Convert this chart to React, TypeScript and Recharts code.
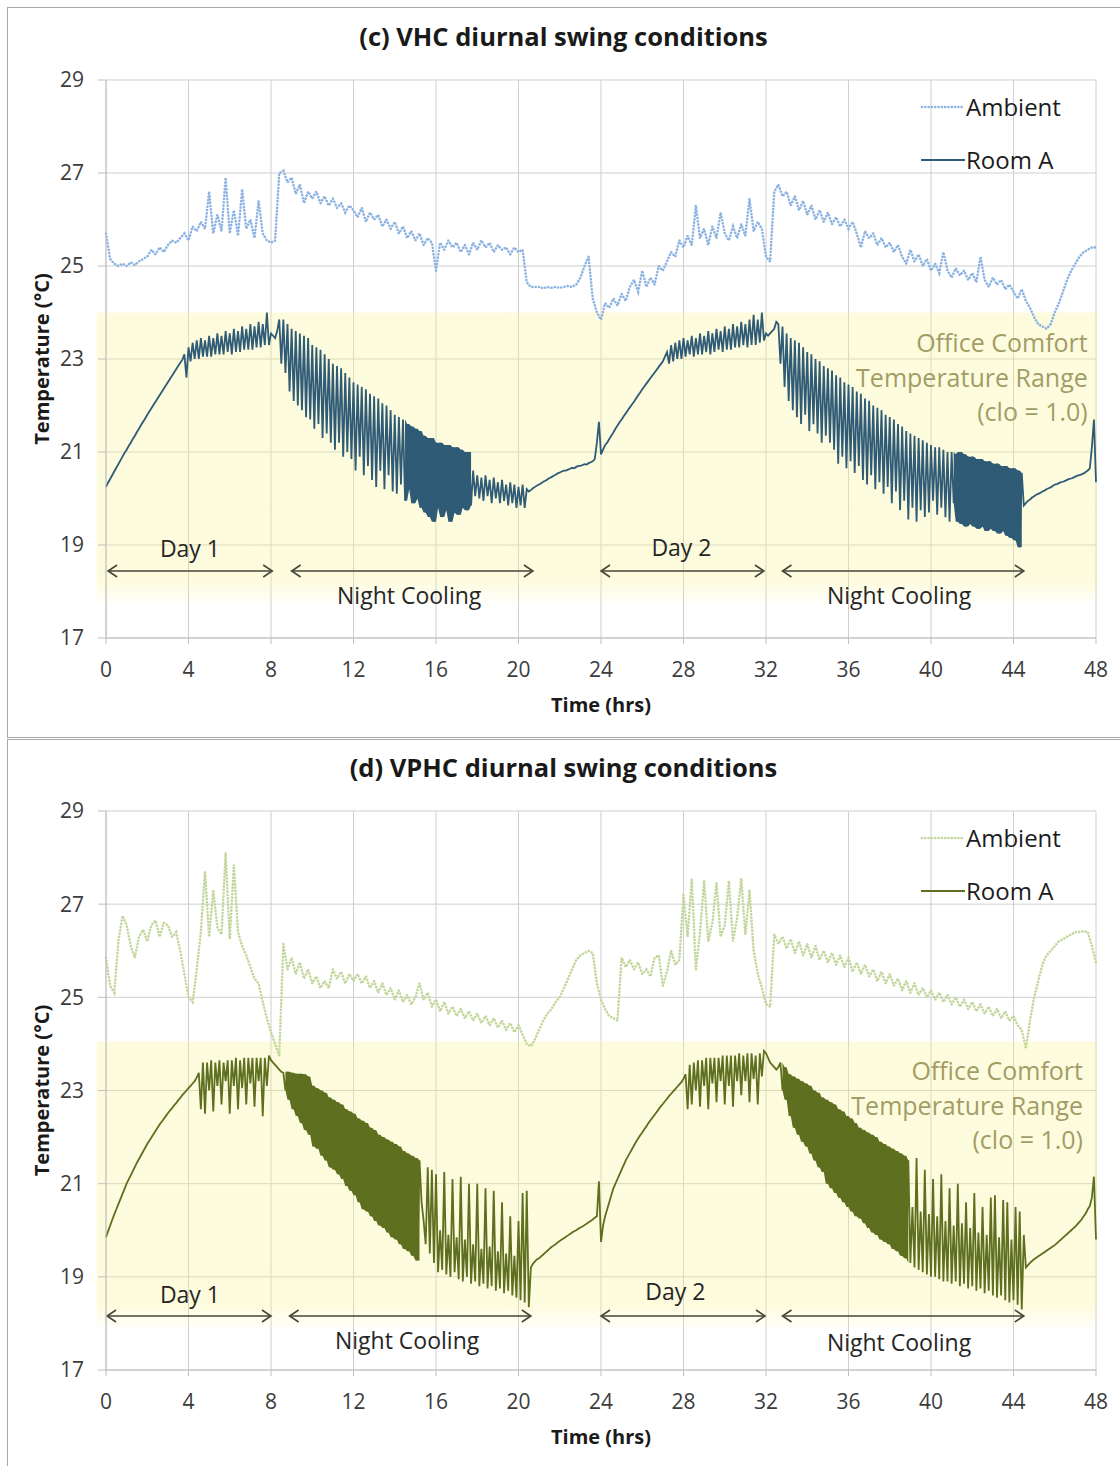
import React from "react";
import {
  ComposedChart,
  Line,
  Area,
  XAxis,
  YAxis,
  CartesianGrid,
  ReferenceArea,
  ReferenceLine,
  ReferenceDot,
  Legend,
} from "recharts";

const timeTicks = [0, 4, 8, 12, 16, 20, 24, 28, 32, 36, 40, 44, 48];
const tempTicks = [17, 19, 21, 23, 25, 27, 29];

// Room A is sampled every 0.1 h, ambient every 0.2 h (one row per hour below)
const ROOM_STEP = 0.1;
const AMB_STEP = 0.2;

// (c) VHC - Room A
const vhcRoom = [
  20.25, 20.34, 20.42, 20.5, 20.58, 20.66, 20.74, 20.82, 20.9, 20.98,
  21.05, 21.13, 21.2, 21.28, 21.35, 21.43, 21.5, 21.58, 21.65, 21.72,
  21.8, 21.87, 21.94, 22.01, 22.08, 22.15, 22.22, 22.29, 22.36, 22.43,
  22.5, 22.57, 22.64, 22.71, 22.78, 22.85, 22.92, 22.98, 23.1, 22.6,
  23.25, 22.95, 23.35, 23.0, 23.4, 23.0, 23.45, 23.05, 23.4, 23.05,
  23.5, 23.05, 23.45, 23.1, 23.55, 23.1, 23.5, 23.1, 23.6, 23.15,
  23.55, 23.1, 23.65, 23.15, 23.6, 23.15, 23.7, 23.2, 23.65, 23.2,
  23.75, 23.2, 23.7, 23.25, 23.8, 23.25, 23.75, 23.3, 24.0, 23.3,
  23.55, 23.5, 23.45, 23.6, 23.85, 22.9, 23.85, 22.7, 23.75, 22.3,
  23.65, 22.1, 23.6, 22.0, 23.55, 21.9, 23.5, 21.75, 23.45, 21.7,
  23.3, 21.5, 23.25, 21.6, 23.2, 21.3, 23.1, 21.4, 23.0, 21.2,
  22.9, 21.05, 22.85, 21.2, 22.8, 20.9, 22.7, 21.0, 22.6, 20.85,
  22.5, 20.6, 22.45, 20.9, 22.4, 20.5, 22.35, 20.7, 22.25, 20.4,
  22.2, 20.25, 22.15, 20.6, 22.05, 20.2, 22.0, 20.5, 21.9, 20.15,
  21.8, 20.1, 21.75, 20.3, 21.7, 19.95, 21.6, 20.2, 21.55, 19.9,
  21.5, 20.0, 21.45, 19.8, 21.35, 19.7, 21.3, 19.6, 21.3, 19.5,
  21.2, 19.8, 21.2, 19.6, 21.15, 19.75, 21.15, 19.5, 21.1, 19.7,
  21.1, 19.65, 21.05, 19.8, 21.0, 19.75, 21.0, 19.85, 20.6, 20.05,
  20.5, 20.0, 20.45, 19.95, 20.5, 20.05, 20.4, 19.9, 20.45, 20.0,
  20.35, 19.9, 20.4, 19.95, 20.3, 19.85, 20.35, 19.9, 20.3, 19.8,
  20.25, 19.85, 20.3, 19.8, 20.2, 20.15, 20.18, 20.22, 20.25, 20.28,
  20.3, 20.33, 20.36, 20.38, 20.41, 20.44, 20.46, 20.49, 20.51, 20.54,
  20.56, 20.58, 20.6, 20.6, 20.62, 20.64, 20.66, 20.65, 20.68, 20.7,
  20.7, 20.72, 20.74, 20.73, 20.76, 20.78, 20.8, 20.85, 21.2, 21.65,
  20.95, 21.05, 21.15, 21.2, 21.28, 21.35, 21.42, 21.5, 21.57, 21.64,
  21.7, 21.77, 21.83, 21.9, 21.96, 22.02, 22.08, 22.15, 22.22, 22.28,
  22.35, 22.41, 22.47, 22.53, 22.59, 22.65, 22.71, 22.77, 22.83, 22.89,
  22.95, 23.05, 23.15, 22.9, 23.3, 22.95, 23.35, 23.0, 23.4, 23.0,
  23.45, 23.05, 23.4, 23.1, 23.5, 23.05, 23.45, 23.1, 23.55, 23.1,
  23.5, 23.15, 23.6, 23.1, 23.55, 23.15, 23.65, 23.2, 23.6, 23.15,
  23.7, 23.2, 23.65, 23.2, 23.75, 23.25, 23.7, 23.25, 23.8, 23.3,
  23.75, 23.25, 23.85, 23.3, 23.95, 23.3, 23.85, 23.35, 24.0, 23.4,
  23.55, 23.5, 23.55, 23.6, 23.65, 23.8, 23.75, 22.9, 23.7, 22.4,
  23.55, 22.1, 23.45, 21.9, 23.4, 21.75, 23.35, 21.6, 23.25, 21.8,
  23.15, 21.45, 23.1, 21.6, 23.0, 21.4, 22.95, 21.2, 22.85, 21.35,
  22.8, 21.2, 22.75, 21.05, 22.65, 20.75, 22.6, 20.9, 22.5, 20.65,
  22.45, 20.8, 22.4, 20.55, 22.3, 20.7, 22.25, 20.4, 22.15, 20.3,
  22.1, 20.5, 22.0, 20.2, 21.95, 20.35, 21.9, 20.1, 21.8, 20.25,
  21.75, 19.9, 21.7, 20.15, 21.6, 19.75, 21.55, 19.95, 21.45, 19.55,
  21.4, 19.8, 21.35, 19.5, 21.3, 19.75, 21.25, 19.6, 21.2, 19.7,
  21.15, 19.95, 21.1, 19.65, 21.1, 19.8, 21.05, 19.6, 21.0, 19.5,
  21.0, 19.9, 20.95, 19.5, 21.0, 19.45, 20.95, 19.4, 20.9, 19.45,
  20.9, 19.4, 20.85, 19.35, 20.85, 19.4, 20.8, 19.3, 20.8, 19.35,
  20.75, 19.3, 20.75, 19.25, 20.7, 19.3, 20.7, 19.2, 20.65, 19.15,
  20.65, 19.1, 20.6, 18.95, 20.55, 19.85, 19.9, 19.95, 19.98, 20.02,
  20.05, 20.08, 20.1, 20.12, 20.15, 20.17, 20.2, 20.22, 20.24, 20.27,
  20.3, 20.31, 20.33, 20.35, 20.36, 20.38, 20.4, 20.42, 20.43, 20.45,
  20.47, 20.49, 20.5, 20.52, 20.54, 20.57, 20.6, 20.65, 21.1, 21.7,
  20.35,
];

// (c) VHC - Ambient
const vhcAmbient = [
  25.7, 25.15, 25.05, 25.0, 25.05,
  25.0, 25.08, 25.02, 25.1, 25.15,
  25.2, 25.35, 25.25, 25.4, 25.3,
  25.45, 25.55, 25.5, 25.6, 25.7,
  25.55, 25.85, 25.75, 25.95, 25.8,
  26.6, 25.7, 26.1, 25.75, 26.9,
  25.7, 26.2, 25.65, 26.65, 25.8,
  26.0, 25.6, 26.4, 25.7, 25.55,
  25.5, 25.55, 27.0, 27.05, 26.8,
  26.9, 26.55, 26.75, 26.35, 26.6,
  26.45, 26.6, 26.35, 26.5, 26.3,
  26.45, 26.25, 26.35, 26.15, 26.3,
  26.2, 26.05, 26.25, 25.95, 26.15,
  26.0, 26.1, 25.85, 26.0, 25.8,
  25.95, 25.7, 25.85, 25.6, 25.75,
  25.55, 25.7, 25.45, 25.6, 25.5,
  24.9, 25.5, 25.35, 25.55, 25.4,
  25.5, 25.3, 25.45, 25.25, 25.5,
  25.35, 25.55, 25.4, 25.5, 25.3,
  25.45, 25.35, 25.4, 25.25, 25.4,
  25.3, 25.35, 24.65, 24.55, 24.55,
  24.55, 24.52, 24.55, 24.53, 24.55,
  24.53, 24.55, 24.57, 24.55, 24.6,
  24.75, 25.0, 25.2, 24.3, 24.0,
  23.85, 24.2, 24.1, 24.3, 24.15,
  24.4, 24.25, 24.55, 24.7, 24.45,
  24.9, 24.55, 24.75, 24.6, 25.0,
  24.9, 25.1, 25.3, 25.2, 25.55,
  25.4, 25.65, 25.45, 26.3, 25.6,
  25.8, 25.45, 25.85, 25.6, 26.15,
  25.7, 25.55, 25.85, 25.6, 25.9,
  25.65, 26.45, 25.75, 25.95, 25.8,
  25.2, 25.1, 26.6, 26.75, 26.5,
  26.6, 26.3, 26.5, 26.2, 26.4,
  26.1, 26.3, 26.0, 26.2, 25.95,
  26.15, 25.9, 26.05, 25.85, 26.0,
  25.8, 25.95, 25.7, 25.4, 25.75,
  25.6, 25.7, 25.45, 25.6, 25.4,
  25.5, 25.3, 25.45, 25.2, 25.05,
  25.35, 25.1, 25.25, 25.0, 25.15,
  24.9, 25.05, 24.85, 25.3, 24.9,
  24.75, 24.95, 24.8, 24.9, 24.7,
  24.85, 24.65, 25.2, 24.7, 24.55,
  24.75, 24.6, 24.7, 24.5, 24.6,
  24.45, 24.3, 24.5, 24.25, 24.1,
  23.9, 23.75, 23.7, 23.65, 23.75,
  24.0, 24.2, 24.45, 24.7, 24.9,
  25.05, 25.2, 25.3, 25.35, 25.4,
  25.4,
];

// (d) VPHC - Room A
const vphcRoom = [
  19.85, 19.98, 20.1, 20.22, 20.34, 20.45, 20.56, 20.67, 20.78, 20.89,
  21.0, 21.09, 21.18, 21.27, 21.36, 21.45, 21.53, 21.61, 21.69, 21.77,
  21.85, 21.92, 21.99, 22.06, 22.13, 22.2, 22.27, 22.33, 22.39, 22.45,
  22.51, 22.57, 22.62, 22.68, 22.73, 22.79, 22.84, 22.9, 22.95, 23.0,
  23.05, 23.1, 23.15, 23.2, 23.28, 23.38, 22.6, 23.6, 22.5, 23.6,
  23.0, 23.65, 22.55, 23.6, 23.1, 23.65, 22.7, 23.6, 23.2, 23.65,
  22.5, 23.65, 23.1, 23.7, 22.6, 23.65, 23.05, 23.7, 22.7, 23.7,
  23.15, 23.7, 22.65, 23.7, 23.2, 23.7, 22.45, 23.7, 23.1, 23.75,
  23.65, 23.6, 23.55, 23.5, 23.45, 23.4, 23.38, 23.0, 23.4, 22.8,
  23.38, 22.6, 23.36, 22.45, 23.36, 22.3, 23.35, 22.15, 23.3, 22.05,
  23.1, 21.8, 23.05, 21.75, 23.0, 21.6, 22.95, 21.5, 22.85, 21.35,
  22.8, 21.3, 22.75, 21.2, 22.7, 21.1, 22.6, 20.95, 22.55, 20.85,
  22.5, 20.75, 22.4, 20.6, 22.35, 20.45, 22.3, 20.4, 22.2, 20.3,
  22.15, 20.2, 22.05, 20.1, 22.0, 20.05, 21.95, 19.95, 21.9, 19.85,
  21.85, 19.8, 21.8, 19.7, 21.7, 19.6, 21.65, 19.55, 21.6, 19.45,
  21.55, 19.35, 21.5, 20.6, 20.2, 19.7, 21.35, 19.5, 21.3, 19.3,
  21.2, 19.1, 20.0, 19.15, 21.25, 19.05, 19.9, 19.0, 21.1, 19.1,
  19.85, 18.95, 21.15, 18.9, 19.8, 19.0, 21.0, 18.85, 19.7, 18.9,
  21.0, 18.8, 19.6, 18.85, 20.9, 18.75, 19.65, 18.8, 20.85, 18.7,
  19.55, 18.75, 20.6, 18.65, 19.5, 18.7, 20.3, 18.6, 19.45, 18.55,
  20.2, 18.5, 20.8, 18.45, 20.85, 18.35, 19.2, 19.28, 19.33, 19.38,
  19.4, 19.44, 19.48, 19.52, 19.56, 19.6, 19.64, 19.67, 19.7, 19.74,
  19.77, 19.8, 19.83, 19.86, 19.89, 19.92, 19.95, 19.98, 20.0, 20.03,
  20.06, 20.08, 20.11, 20.14, 20.17, 20.2, 20.23, 20.27, 20.3, 21.05,
  19.75, 20.1, 20.3, 20.45, 20.6, 20.75, 20.9, 21.0, 21.1, 21.2,
  21.3, 21.4, 21.5, 21.58, 21.66, 21.74, 21.82, 21.9, 21.97, 22.04,
  22.1, 22.17, 22.23, 22.3, 22.36, 22.42, 22.48, 22.54, 22.6, 22.66,
  22.71, 22.77, 22.82, 22.88, 22.93, 22.98, 23.03, 23.08, 23.13, 23.18,
  23.25, 23.35, 22.6, 23.55, 22.7, 23.6, 23.0, 23.65, 22.65, 23.65,
  23.1, 23.7, 22.6, 23.7, 23.15, 23.7, 22.75, 23.7, 23.2, 23.75,
  22.7, 23.75, 23.1, 23.75, 22.65, 23.75, 23.2, 23.8, 22.9, 23.75,
  23.2, 23.8, 22.75, 23.8, 23.25, 23.75, 22.7, 23.8, 23.3, 23.85,
  23.8, 23.7, 23.6, 23.55, 23.5, 23.45, 23.5, 23.6, 23.0, 23.5,
  22.8, 23.35, 22.45, 23.3, 22.2, 23.25, 22.05, 23.2, 21.9, 23.15,
  21.8, 23.1, 21.65, 23.0, 21.5, 22.95, 21.35, 22.85, 21.25, 22.8,
  21.0, 22.75, 20.9, 22.7, 20.8, 22.6, 20.7, 22.55, 20.6, 22.45,
  20.5, 22.4, 20.4, 22.3, 20.3, 22.2, 20.25, 22.15, 20.15, 22.1,
  20.05, 22.05, 19.95, 22.0, 19.9, 21.9, 19.8, 21.85, 19.75, 21.8,
  19.7, 21.75, 19.6, 21.7, 19.55, 21.65, 19.45, 21.6, 19.4, 21.5,
  19.3, 20.5, 19.2, 21.55, 19.15, 20.4, 19.1, 21.3, 19.05, 20.35,
  19.0, 21.1, 19.0, 20.3, 18.95, 21.2, 18.9, 20.2, 18.9, 20.9,
  18.85, 20.1, 18.9, 21.0, 18.8, 20.15, 18.85, 20.6, 18.75, 20.05,
  18.8, 20.8, 18.7, 19.95, 18.75, 20.5, 18.65, 19.9, 18.7, 20.7,
  18.6, 20.75, 18.55, 19.85, 18.6, 20.65, 18.5, 20.6, 18.45, 19.8,
  18.5, 20.5, 18.4, 20.4, 18.3, 19.9, 19.2, 19.25, 19.3, 19.34,
  19.38, 19.41, 19.44, 19.47, 19.5, 19.53, 19.56, 19.59, 19.62, 19.65,
  19.68, 19.72, 19.76, 19.8, 19.84, 19.88, 19.92, 19.96, 20.0, 20.04,
  20.08, 20.13, 20.18, 20.23, 20.3, 20.36, 20.45, 20.52, 20.7, 21.15,
  19.8,
];

// (d) VPHC - Ambient
const vphcAmbient = [
  25.85, 25.25, 25.1, 26.2, 26.75,
  26.55, 26.1, 25.85, 26.3, 26.45,
  26.2, 26.55, 26.65, 26.3, 26.6,
  26.55, 26.3, 26.4, 26.0, 25.5,
  25.0, 24.9, 25.6, 26.4, 27.7,
  26.3, 27.3, 26.5, 26.35, 28.1,
  26.25, 27.85, 26.4, 26.1, 25.9,
  25.65, 25.4, 25.3, 24.9, 24.55,
  24.25, 24.0, 23.75, 26.15, 25.6,
  25.85, 25.5, 25.75, 25.4, 25.6,
  25.3, 25.45, 25.2, 25.35, 25.2,
  25.6, 25.4, 25.55, 25.3, 25.5,
  25.35, 25.5, 25.3, 25.45, 25.2,
  25.35, 25.1, 25.3, 25.05, 25.2,
  24.95, 25.15, 24.9, 25.05, 24.85,
  25.0, 25.3, 24.95, 25.1, 24.8,
  24.95, 24.7, 24.9, 24.65, 24.8,
  24.6, 24.75, 24.55, 24.7, 24.5,
  24.65, 24.45, 24.6, 24.4, 24.55,
  24.35, 24.5, 24.3, 24.45, 24.25,
  24.4, 24.2, 24.0, 23.95, 24.1,
  24.3, 24.5, 24.65, 24.75, 24.9,
  25.0, 25.2, 25.4, 25.6, 25.8,
  25.9, 25.95, 26.0, 25.95, 25.3,
  24.95, 24.75, 24.6, 24.55, 24.5,
  25.85, 25.65, 25.8, 25.6, 25.75,
  25.5, 25.6, 25.45, 25.85, 25.9,
  25.25, 25.55, 26.0, 25.7, 25.8,
  27.2, 26.3, 27.55, 25.6, 26.4,
  27.5, 26.2, 26.6, 27.45, 26.3,
  26.55, 27.5, 26.2, 26.7, 27.55,
  26.35, 27.3, 26.0, 25.5, 25.2,
  24.85, 24.8, 26.35, 26.15, 26.3,
  26.05, 26.25, 25.95, 26.2, 25.9,
  26.15, 25.85, 26.1, 25.8, 26.0,
  25.75, 25.95, 25.7, 25.9, 25.65,
  25.85, 25.55, 25.75, 25.5, 25.7,
  25.45, 25.6, 25.35, 25.55, 25.3,
  25.5, 25.25, 25.4, 25.15, 25.35,
  25.1, 25.3, 25.05, 25.2, 25.0,
  25.15, 24.95, 25.1, 24.9, 25.05,
  24.85, 25.0, 24.8, 24.95, 24.75,
  24.9, 24.7, 24.85, 24.65, 24.8,
  24.6, 24.75, 24.55, 24.7, 24.5,
  24.6, 24.4, 24.3, 23.9, 24.5,
  25.0, 25.35, 25.7, 25.9, 26.0,
  26.1, 26.2, 26.25, 26.3, 26.35,
  26.4, 26.4, 26.42, 26.4, 26.1,
  25.75,
];

// stretches where the room trace is dense enough to read as a solid band (hrs)
const vhcDense = [[14.5, 17.7], [41.1, 44.4]];
const vphcDense = [[8.7, 15.2], [32.8, 38.9]];

const FONT = "'Open Sans', 'DejaVu Sans', sans-serif";

const toRows = (vals: number[], step: number) =>
  vals.map((v, i) => ({ t: Math.round(i * step * 100) / 100, v }));

// min/max of each sample and its neighbours, for filling the dense stretches
const toBand = (vals: number[], step: number, from: number, to: number) => {
  const rows: { t: number; band: number[] }[] = [];
  vals.forEach((_, i) => {
    const t = Math.round(i * step * 100) / 100;
    if (t < from || t > to) return;
    const near = vals.slice(Math.max(0, i - 1), i + 2);
    rows.push({ t, band: [Math.min(...near), Math.max(...near)] });
  });
  return rows;
};

const ArrowShape = (props: any) => {
  const { x1, y1, x2, y2 } = props;
  const c = "#46463a";
  return (
    <g stroke={c} strokeWidth={1.6} fill="none">
      <line x1={x1} y1={y1} x2={x2} y2={y2} />
      <polyline points={`${x1 + 9},${y1 - 6} ${x1},${y1} ${x1 + 9},${y1 + 6}`} />
      <polyline points={`${x2 - 9},${y2 - 6} ${x2},${y2} ${x2 - 9},${y2 + 6}`} />
    </g>
  );
};

const textShape = (text: string, color: string, size: number, anchor: string) => (props: any) => (
  <text
    x={props.cx}
    y={props.cy}
    fill={color}
    fontSize={size}
    fontFamily={FONT}
    textAnchor={anchor}
    dominantBaseline="central"
  >
    {text}
  </text>
);

const LegendBox = ({ roomColor, ambColor }: { roomColor: string; ambColor: string }) => (
  <div style={{ fontFamily: FONT, fontSize: 24, color: "#1c1c1c" }}>
    <div style={{ display: "flex", alignItems: "center", height: 53 }}>
      <svg width={46} height={10}>
        <line x1={2} y1={5} x2={44} y2={5} stroke={ambColor} strokeWidth={2.6}
          strokeDasharray="0.1 3.2" strokeLinecap="round" />
      </svg>
      <span>Ambient</span>
    </div>
    <div style={{ display: "flex", alignItems: "center", height: 53 }}>
      <svg width={46} height={10}>
        <line x1={1} y1={5} x2={45} y2={5} stroke={roomColor} strokeWidth={2} />
      </svg>
      <span>Room A</span>
    </div>
  </div>
);

interface PanelProps {
  id: string;
  title: string;
  top: number;
  height: number;
  marginBottom: number;
  room: number[];
  ambient: number[];
  dense: number[][];
  roomColor: string;
  ambColor: string;
  band: [number, number];
  arrowY: number;
  arrows: number[][];
  notes: { text: string; x: number; y: number }[];
  comfortX: number;
  comfortY: number[];
}

const Panel = (p: PanelProps) => {
  const comfortLines = ["Office Comfort", "Temperature Range", "(clo = 1.0)"];
  return (
    <div style={{ position: "absolute", left: 0, top: p.top, width: 1120, height: p.height }}>
      <ComposedChart
        width={1120}
        height={p.height}
        margin={{ top: 80, right: 24, left: 46, bottom: p.marginBottom }}
      >
        <defs>
          <linearGradient id={`${p.id}-comfort`} x1="0" y1="0" x2="0" y2="1">
            <stop offset="0%" stopColor="#f9f38e" stopOpacity={0.3} />
            <stop offset="92%" stopColor="#f9f38e" stopOpacity={0.3} />
            <stop offset="100%" stopColor="#f9f38e" stopOpacity={0.04} />
          </linearGradient>
        </defs>
        <CartesianGrid stroke="#cfcfcf" />
        <ReferenceArea
          x1={-0.45}
          x2={48.05}
          y1={p.band[0]}
          y2={p.band[1]}
          ifOverflow="visible"
          fill={`url(#${p.id}-comfort)`}
          fillOpacity={1}
          stroke="none"
        />
        <XAxis
          type="number"
          dataKey="t"
          domain={[0, 48]}
          ticks={timeTicks}
          height={30}
          tickSize={6}
          tickMargin={18}
          stroke="#bfbfbf"
          tick={{ fontSize: 21, fill: "#3c3c3c", fontFamily: FONT }}
          label={{
            value: "Time (hrs)",
            position: "bottom",
            offset: 30,
            style: { fontSize: 20, fontWeight: 700, fill: "#1a1a1a", fontFamily: FONT },
          }}
        />
        <YAxis
          type="number"
          domain={[17, 29]}
          ticks={tempTicks}
          width={60}
          tickSize={8}
          tickMargin={14}
          stroke="#bfbfbf"
          tick={{ fontSize: 21, fill: "#3c3c3c", fontFamily: FONT }}
          label={{
            value: "Temperature (°C)",
            angle: -90,
            position: "center",
            dx: -34,
            style: { fontSize: 20, fontWeight: 700, fill: "#1a1a1a", fontFamily: FONT },
          }}
        />
        <Legend
          layout="vertical"
          align="center"
          verticalAlign="middle"
          wrapperStyle={{ left: 920, top: 80, width: 190 }}
          content={() => <LegendBox roomColor={p.roomColor} ambColor={p.ambColor} />}
        />
        {p.dense.map(([a, b]) => (
          <Area
            key={`band-${a}`}
            data={toBand(p.room, ROOM_STEP, a, b)}
            dataKey="band"
            type="linear"
            stroke="none"
            fill={p.roomColor}
            fillOpacity={1}
            isAnimationActive={false}
            legendType="none"
          />
        ))}
        <Line
          data={toRows(p.ambient, AMB_STEP)}
          dataKey="v"
          name="Ambient"
          type="linear"
          stroke={p.ambColor}
          strokeWidth={2.6}
          strokeDasharray="0.1 3.2"
          strokeLinecap="round"
          dot={false}
          activeDot={false}
          isAnimationActive={false}
        />
        <Line
          data={toRows(p.room, ROOM_STEP)}
          dataKey="v"
          name="Room A"
          type="linear"
          stroke={p.roomColor}
          strokeWidth={1.8}
          dot={false}
          activeDot={false}
          isAnimationActive={false}
        />
        {p.arrows.map(([a, b]) => (
          <ReferenceLine
            key={`arrow-${a}`}
            segment={[{ x: a, y: p.arrowY }, { x: b, y: p.arrowY }]}
            shape={ArrowShape}
          />
        ))}
        {p.notes.map((n) => (
          <ReferenceDot
            key={`${n.text}-${n.x}`}
            x={n.x}
            y={n.y}
            r={0}
            shape={textShape(n.text, "#262626", 23, "middle")}
          />
        ))}
        {comfortLines.map((txt, i) => (
          <ReferenceDot
            key={txt}
            x={p.comfortX}
            y={p.comfortY[i]}
            r={0}
            shape={textShape(txt, "#a29d66", 25, "end")}
          />
        ))}
      </ComposedChart>
      <div
        style={{
          position: "absolute",
          left: 7,
          top: 19,
          width: 1113,
          textAlign: "center",
          fontFamily: FONT,
          fontSize: 25.5,
          fontWeight: 700,
          color: "#1a1a1a",
        }}
      >
        {p.title}
      </div>
    </div>
  );
};

export default function App() {
  return (
    <div
      style={{
        position: "absolute",
        left: 0,
        top: 0,
        width: 1120,
        height: 1466,
        overflow: "hidden",
        background: "#ffffff",
      }}
    >
      <div style={{ position: "absolute", left: 7, top: 7, width: 1120, height: 729, border: "1px solid #a8a8a8" }} />
      <div style={{ position: "absolute", left: 7, top: 739, width: 1120, height: 740, border: "1px solid #a8a8a8" }} />
      <Panel
        id="vhc"
        title="(c) VHC diurnal swing conditions"
        top={0}
        height={736}
        marginBottom={68}
        room={vhcRoom}
        ambient={vhcAmbient}
        dense={vhcDense}
        roomColor="#2f5b76"
        ambColor="#8db3e2"
        band={[17.75, 24]}
        arrowY={18.44}
        arrows={[[0.1, 8.06], [9.0, 20.7], [24.0, 31.9], [32.8, 44.5]]}
        notes={[
          { text: "Day 1", x: 4.07, y: 18.94 },
          { text: "Night Cooling", x: 14.7, y: 17.92 },
          { text: "Day 2", x: 27.9, y: 18.96 },
          { text: "Night Cooling", x: 38.45, y: 17.92 },
        ]}
        comfortX={47.6}
        comfortY={[23.37, 22.61, 21.88]}
      />
      <Panel
        id="vphc"
        title="(d) VPHC diurnal swing conditions"
        top={731}
        height={735}
        marginBottom={66}
        room={vphcRoom}
        ambient={vphcAmbient}
        dense={vphcDense}
        roomColor="#5e6f1f"
        ambColor="#c3d69b"
        band={[17.9, 24.05]}
        arrowY={18.16}
        arrows={[[0.05, 8.0], [8.9, 20.6], [24.0, 31.95], [32.8, 44.5]]}
        notes={[
          { text: "Day 1", x: 4.07, y: 18.63 },
          { text: "Night Cooling", x: 14.6, y: 17.65 },
          { text: "Day 2", x: 27.6, y: 18.7 },
          { text: "Night Cooling", x: 38.45, y: 17.6 },
        ]}
        comfortX={47.37}
        comfortY={[23.45, 22.68, 21.95]}
      />
    </div>
  );
}
